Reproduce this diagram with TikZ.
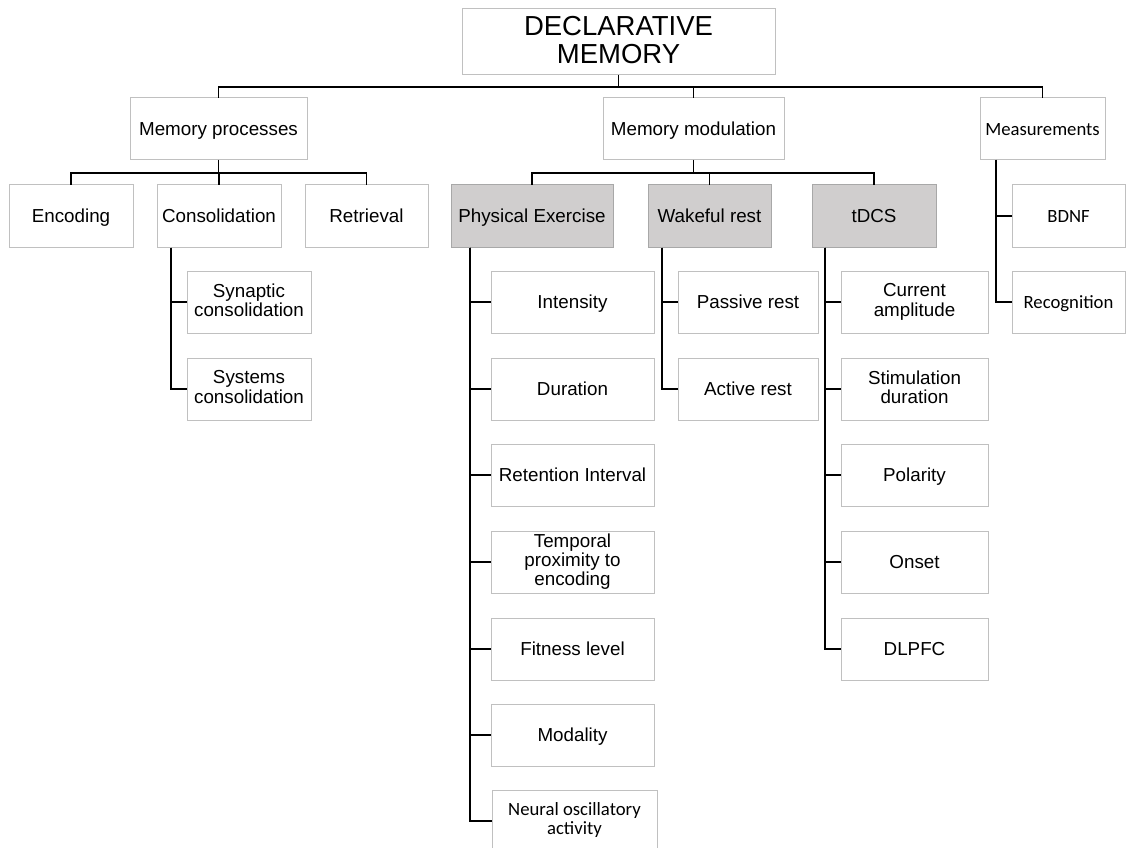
\documentclass[tikz,border=0pt]{standalone}
\usepackage{fontspec}
\setmainfont{Liberation Sans}
\newfontfamily\calibrifont{Carlito}
\definecolor{boxgrey}{RGB}{192,192,192}
\definecolor{shadefill}{RGB}{208,206,206}
\definecolor{shadeline}{RGB}{168,168,168}
\tikzset{
  box/.style={draw=boxgrey, line width=1pt, fill=white, align=center, inner sep=2pt,
    outer sep=0pt, minimum height=62pt, font=\fontsize{18.8}{19.3}\selectfont,
    execute at begin node={\rule{0pt}{17.7pt}},
    execute at end node={\rule[-4.3pt]{0pt}{4.3pt}}},
  greybox/.style={box, fill=shadefill, draw=shadeline},
  calbox/.style={box, font=\calibrifont\fontsize{18.7}{19.3}\selectfont},
  link/.style={line width=1.3pt, black},
}
\begin{document}
\begin{tikzpicture}[x=1pt, y=-1pt]
    \useasboundingbox (0,0) rectangle (1130,848);
    % top and first level
    \node[box, minimum width=313pt, minimum height=66pt, font=\fontsize{27.5}{28}\selectfont] (decl) at (618.5,42) {DECLARATIVE\\MEMORY};
    \node[box, minimum width=177pt] (proc) at (218.5,129) {Memory processes};
    \node[box, minimum width=181pt] (modu) at (693.5,129) {Memory modulation};
    \node[calbox, minimum width=125pt] (meas) at (1042.5,129) {Measurements};
    % second level
    \node[box, minimum width=124pt, minimum height=63pt] (enc) at (71,216) {Encoding};
    \node[box, minimum width=124pt, minimum height=63pt] (cons) at (219,216) {Consolidation};
    \node[box, minimum width=123pt, minimum height=63pt] (retr) at (366.5,216) {Retrieval};
    \node[greybox, minimum width=162pt, minimum height=63pt] (phys) at (532,216) {Physical Exercise};
    \node[greybox, minimum width=123pt, minimum height=63pt] (wake) at (709.5,216) {Wakeful rest};
    \node[greybox, minimum width=124pt, minimum height=63pt] (tdcs) at (874,216) {tDCS};
    \node[calbox, minimum width=113pt, minimum height=63pt] (bdnf) at (1068.5,216) {BDNF};
    \node[calbox, minimum width=113pt] (recog) at (1068.5,302) {Recognition};
    % consolidation
    \node[box, minimum width=124pt] (syn) at (249,302) {Synaptic\\consolidation};
    \node[box, minimum width=124pt] (sys) at (249,389) {Systems\\consolidation};
    % physical exercise
    \node[box, minimum width=163pt] (inten) at (572.5,302) {Intensity};
    \node[box, minimum width=163pt] (dura) at (572.5,389) {Duration};
    \node[box, minimum width=163pt] (reten) at (572.5,475) {Retention Interval};
    \node[box, minimum width=163pt] (temp) at (572.5,562) {Temporal\\proximity to\\encoding};
    \node[box, minimum width=163pt] (fit) at (572.5,649) {Fitness level};
    \node[box, minimum width=163pt] (moda) at (572.5,735) {Modality};
    \node[calbox, minimum width=165pt] (neur) at (574.5,821) {Neural oscillatory\\activity};
    % wakeful rest
    \node[box, minimum width=140pt] (pass) at (748,302) {Passive rest};
    \node[box, minimum width=140pt] (act) at (748,389) {Active rest};
    % tDCS
    \node[box, minimum width=147pt] (amp) at (914.5,302) {Current\\amplitude};
    \node[box, minimum width=147pt] (stim) at (914.5,389) {Stimulation\\duration};
    \node[box, minimum width=147pt] (pol) at (914.5,475) {Polarity};
    \node[box, minimum width=147pt] (ons) at (914.5,562) {Onset};
    \node[box, minimum width=147pt] (dlp) at (914.5,649) {DLPFC};

    % tree links
    \draw[link] (decl.south) -- ++(0,12) coordinate (bus0);
    \draw[link] (proc.north) |- (bus0) -| (meas.north);
    \draw[link] (modu.north) -- (modu.north |- bus0);
    \draw[link] (proc.south) -- ++(0,13) coordinate (bus1);
    \draw[link] (enc.north) |- (bus1) -| (retr.north);
    \draw[link] (cons.north) -- (cons.north |- bus1);
    \draw[link] (modu.south) -- ++(0,13) coordinate (bus2);
    \draw[link] (phys.north) |- (bus2) -| (tdcs.north);
    \draw[link] (wake.north) -- (wake.north |- bus2);
    % side columns
    \foreach \c in {syn,sys}
        \draw[link] ([xshift=14pt]cons.south west) |- (\c.west);
    \foreach \c in {inten,dura,reten,temp,fit,moda,neur}
        \draw[link] ([xshift=19pt]phys.south west) |- (\c.west);
    \foreach \c in {pass,act}
        \draw[link] ([xshift=14pt]wake.south west) |- (\c.west);
    \foreach \c in {amp,stim,pol,ons,dlp}
        \draw[link] ([xshift=13pt]tdcs.south west) |- (\c.west);
    \foreach \c in {bdnf,recog}
        \draw[link] ([xshift=16pt]meas.south west) |- (\c.west);
\end{tikzpicture}
\end{document}
